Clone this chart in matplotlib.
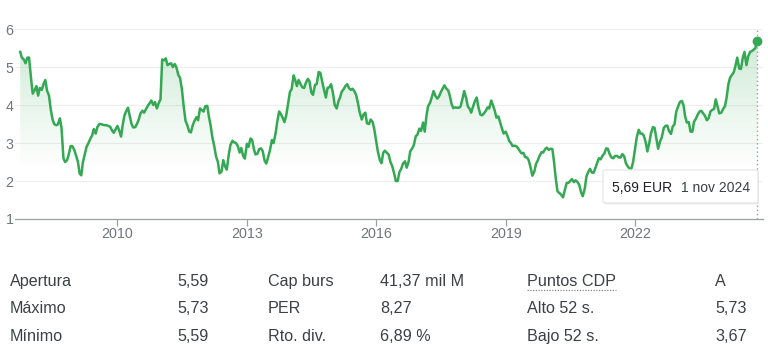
import matplotlib
matplotlib.use("Agg")
import matplotlib.pyplot as plt
import matplotlib.dates as mdates
from matplotlib.patches import FancyBboxPatch, Polygon
from matplotlib.lines import Line2D
from matplotlib.colors import to_rgb
import numpy as np
import pandas as pd

plt.rcParams['font.family'] = ['Liberation Sans', 'DejaVu Sans']

# closes on the 1st and 15th of each month (EUR),
# Oct 2007 .. 1 Nov 2024
start_day = '2007-10-01'
prices = [
    5.40, 5.25, 5.20, 5.10, 5.25, 5.25, 4.70, 4.30, 4.40, 4.50, 4.25, 4.45,
    4.40, 4.55, 4.66, 4.38, 4.25, 3.90, 3.62, 3.50, 3.47, 3.49, 3.65, 3.40,
    2.60, 2.50, 2.55, 2.70, 2.92, 2.92, 2.82, 2.68, 2.50, 2.20, 2.15, 2.50,
    2.72, 2.90, 3.00, 3.10, 3.20, 3.37, 3.25, 3.42, 3.50, 3.50, 3.48, 3.47,
    3.47, 3.45, 3.43, 3.34, 3.27, 3.35, 3.45, 3.34, 3.17, 3.48, 3.72, 3.83,
    3.93, 3.72, 3.50, 3.41, 3.42, 3.50, 3.62, 3.78, 3.85, 3.80, 3.90, 3.98,
    4.05, 4.12, 4.00, 4.08, 3.91, 4.04, 4.15, 5.20, 5.18, 5.23, 5.05, 5.08,
    5.10, 5.00, 5.08, 5.00, 4.79, 4.72, 4.42, 4.00, 3.58, 3.48, 3.30, 3.28,
    3.47, 3.58, 3.68, 3.60, 3.91, 3.87, 3.83, 3.97, 3.98, 3.69, 3.45, 3.15,
    2.90, 2.65, 2.50, 2.20, 2.25, 2.55, 2.38, 2.30, 2.70, 2.95, 3.06, 3.02,
    3.00, 2.93, 2.75, 2.87, 2.66, 2.59, 2.98, 2.90, 3.12, 3.08, 2.85, 2.70,
    2.72, 2.84, 2.86, 2.79, 2.53, 2.46, 2.64, 2.80, 3.08, 3.00, 3.25, 3.55,
    3.83, 3.77, 3.66, 3.55, 3.74, 4.02, 4.35, 4.42, 4.78, 4.65, 4.50, 4.66,
    4.55, 4.47, 4.45, 4.58, 4.69, 4.63, 4.33, 4.27, 4.53, 4.55, 4.87, 4.85,
    4.62, 4.42, 4.20, 4.45, 4.47, 4.55, 4.30, 4.00, 3.91, 4.10, 4.20, 4.35,
    4.42, 4.50, 4.55, 4.45, 4.40, 4.43, 4.36, 4.27, 4.03, 3.80, 3.62, 3.75,
    3.80, 3.52, 3.50, 3.62, 3.56, 3.38, 3.05, 2.78, 2.55, 2.47, 2.75, 2.80,
    2.74, 2.70, 2.50, 2.40, 2.20, 2.00, 2.00, 2.23, 2.33, 2.46, 2.52, 2.35,
    2.50, 2.78, 2.86, 2.95, 3.18, 3.22, 3.38, 3.32, 3.54, 3.30, 3.70, 3.97,
    4.06, 4.20, 4.37, 4.25, 4.17, 4.22, 4.34, 4.42, 4.52, 4.44, 4.39, 4.25,
    4.02, 3.92, 3.94, 3.93, 3.93, 3.96, 4.17, 4.37, 4.18, 3.96, 3.91, 3.80,
    3.97, 4.10, 4.20, 3.95, 3.75, 3.73, 3.78, 3.84, 3.94, 3.91, 4.12, 4.00,
    3.85, 3.67, 3.70, 3.55, 3.38, 3.25, 3.30, 3.20, 3.05, 3.00, 2.92, 2.93,
    2.92, 2.87, 2.79, 2.73, 2.74, 2.63, 2.62, 2.55, 2.35, 2.14, 2.25, 2.45,
    2.55, 2.66, 2.76, 2.75, 2.84, 2.88, 2.82, 2.85, 2.84, 2.50, 2.05, 1.73,
    1.68, 1.64, 1.57, 1.75, 1.95, 1.95, 2.00, 2.05, 1.97, 2.02, 1.97, 1.90,
    1.70, 1.60, 1.80, 2.12, 2.24, 2.32, 2.22, 2.22, 2.36, 2.49, 2.60, 2.57,
    2.67, 2.72, 2.86, 2.85, 2.70, 2.62, 2.60, 2.66, 2.66, 2.62, 2.62, 2.71,
    2.65, 2.47, 2.38, 2.33, 2.33, 2.50, 2.85, 3.15, 3.35, 3.25, 3.25, 3.20,
    3.02, 2.78, 3.00, 3.25, 3.42, 3.40, 3.10, 2.85, 3.05, 3.15, 3.40, 3.45,
    3.46, 3.32, 3.24, 3.43, 3.50, 3.82, 3.97, 4.08, 4.11, 4.00, 3.70, 3.54,
    3.55, 3.30, 3.30, 3.56, 3.65, 3.75, 3.83, 3.85, 3.78, 3.72, 3.60, 3.65,
    3.83, 3.87, 3.90, 4.15, 3.95, 3.78, 3.80, 3.89, 3.97, 4.20, 4.55, 4.72,
    4.80, 4.86, 5.05, 5.25, 4.96, 4.95, 5.25, 5.40, 5.05, 5.28, 5.40, 5.42,
    5.46, 5.50, 5.69,
]
dates = pd.date_range(start_day, periods=len(prices), freq='SMS')

year_ticks = [2010, 2013, 2016, 2019, 2022]
y_ticks = [1, 2, 3, 4, 5, 6]
meses = ['ene', 'feb', 'mar', 'abr', 'may', 'jun',
         'jul', 'ago', 'sept', 'oct', 'nov', 'dic']

col1_labels = ['Apertura', 'Máximo', 'Mínimo']
col1_values = ['5,59', '5,73', '5,59']
col2_labels = ['Cap burs', 'PER', 'Rto. div.']
col2_values = ['41,37 mil M', '8,27', '6,89 %']
col3_labels = ['Puntos CDP', 'Alto 52 s.', 'Bajo 52 s.']
col3_values = ['A', '5,73', '3,67']

green = '#34a853'
axis_gray = '#9aa0a6'
label_gray = '#70757a'
text_dark = '#3c4043'

fig = plt.figure(figsize=(7.68, 3.61), dpi=100)
ax = fig.add_axes([15 / 768, 142 / 361, 748 / 768, 199 / 361])

xnum = mdates.date2num(dates)
y_lo, y_hi = 1, 6.24

# gradient fill under the line
poly = np.vstack([[xnum[0], y_lo], np.column_stack([xnum, prices]), [xnum[-1], y_lo]])
clip = Polygon(poly, closed=True, facecolor='none', edgecolor='none')
ax.add_patch(clip)
gy = np.linspace(y_lo, y_hi, 256)
alpha = np.clip((gy - 2.3) / (6.0 - 2.3), 0, 1) * 0.25
rgba = np.zeros((256, 1, 4))
rgba[..., :3] = to_rgb(green)
rgba[..., 3] = alpha[:, None]
im = ax.imshow(rgba, extent=[xnum[0], xnum[-1], y_lo, y_hi], origin='lower',
               aspect='auto', zorder=1, interpolation='bilinear')
im.set_clip_path(clip)

ax.plot(dates, prices, color=green, lw=1.8, zorder=3, solid_joinstyle='round')
ax.vlines(dates[-1], 1, 6, colors=axis_gray, linestyles=(0, (1, 2)), lw=1, zorder=2)
ax.plot(dates[-1], prices[-1], 'o', ms=6, color=green, zorder=4)

ax.set_xlim(mdates.date2num(pd.Timestamp('2007-08-18')),
            mdates.date2num(pd.Timestamp('2024-12-19')))
ax.set_ylim(y_lo, y_hi)
ax.set_xticks([mdates.date2num(pd.Timestamp(f'{y}-01-01')) for y in year_ticks])
ax.set_xticklabels([str(y) for y in year_ticks])
ax.set_yticks(y_ticks)
ax.set_yticklabels([str(v) for v in y_ticks])

ax.grid(axis='y', color='#eeeeee', lw=0.8, zorder=0)
ax.set_axisbelow(True)
for s in ['top', 'right', 'left']:
    ax.spines[s].set_visible(False)
ax.spines['bottom'].set_color(axis_gray)
ax.spines['bottom'].set_linewidth(0.9)
ax.tick_params(axis='x', direction='out', length=5, width=0.9, color=axis_gray,
               labelcolor=label_gray, labelsize=10.3, pad=1)
ax.tick_params(axis='y', length=0, labelcolor=label_gray, labelsize=10.3, pad=1)

# tooltip box
x0, x1 = 603 / 768, 758 / 768
yb, yt = (361 - 203) / 361, (361 - 170) / 361
shadow = FancyBboxPatch((x0 + 0.001, yb - 0.004), x1 - x0, yt - yb,
                        boxstyle='round,pad=0,rounding_size=0.004',
                        transform=fig.transFigure, facecolor='#000000',
                        alpha=0.08, edgecolor='none', zorder=5)
box = FancyBboxPatch((x0, yb), x1 - x0, yt - yb,
                     boxstyle='round,pad=0,rounding_size=0.004',
                     transform=fig.transFigure, facecolor='white',
                     edgecolor='#e3e3e3', lw=0.8, zorder=6)
fig.patches.extend([shadow, box])
last = dates[-1]
price_txt = f'{prices[-1]:.2f}'.replace('.', ',') + ' EUR'
date_txt = f'{last.day} {meses[last.month - 1]} {last.year}'
fig.text(612 / 768, (361 - 191.5) / 361, price_txt, color='#202124',
         fontsize=10, va='baseline', zorder=7)
fig.text(681 / 768, (361 - 191.5) / 361, date_txt, color='#3c4043',
         fontsize=10, va='baseline', zorder=7)

# stats table
row_base = [285.7, 313.3, 340.7]
cols = [(10, col1_labels), (177, col1_values), (268, col2_labels),
        (380, col2_values), (527, col3_labels), (715, col3_values)]
for xp, items in cols:
    for yp, t in zip(row_base, items):
        fig.text(xp / 768, (361 - yp) / 361, t, color=text_dark,
                 fontsize=11.6, va='baseline')
fig.add_artist(Line2D([527 / 768, 616 / 768], [(361 - 289.5) / 361] * 2,
                      transform=fig.transFigure, color='#80868b', lw=0.9,
                      linestyle=(0, (1, 1.2))))

fig.savefig('out.png', dpi=100)
